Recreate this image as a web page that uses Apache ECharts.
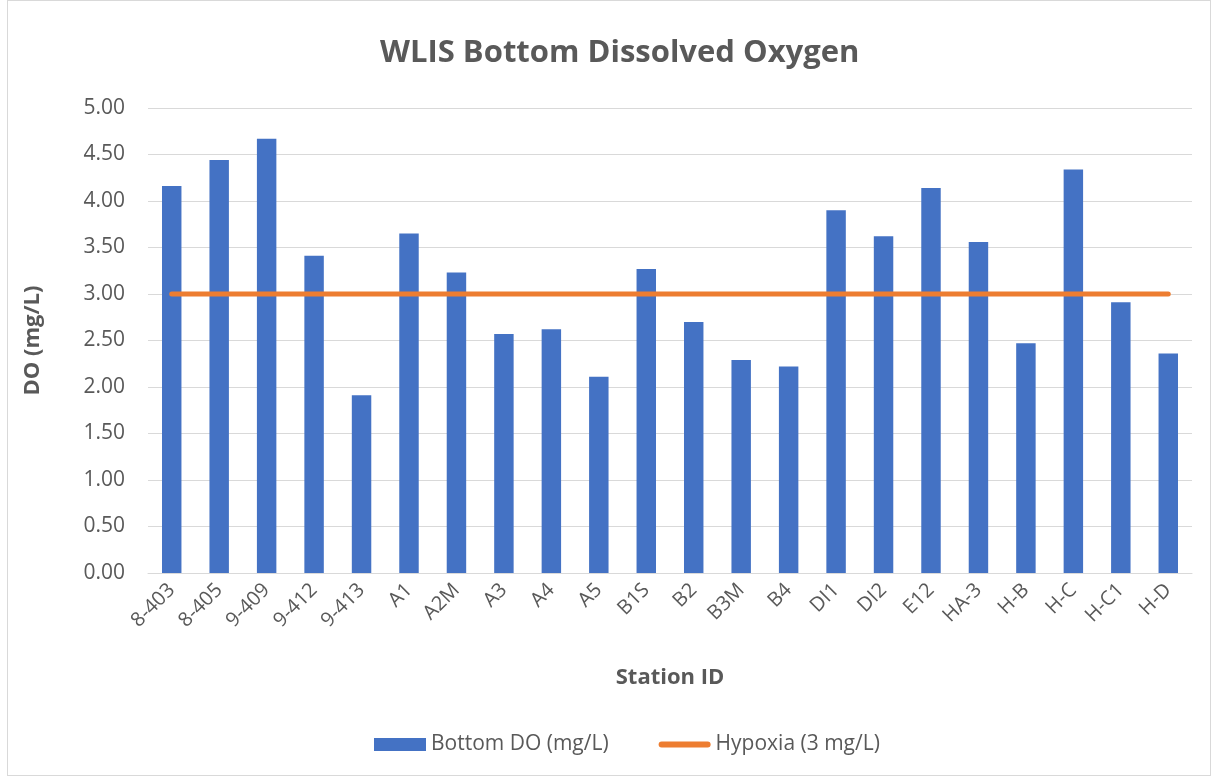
<!DOCTYPE html>
<html>
<head>
<meta charset="utf-8">
<script src="https://cdn.jsdelivr.net/npm/echarts@6/dist/echarts.min.js"></script>
<style>
html,body{margin:0;padding:0;background:#fff;}
#frame{position:absolute;left:7px;top:0;width:1204px;height:776px;border:1px solid #d9d9d9;box-sizing:border-box;}
#chart{position:absolute;left:0;top:0;width:1212px;height:778px;}
</style>
</head>
<body>
<div id="frame"></div>
<div id="chart"></div>
<script>
const stations = ["8-403","8-405","9-409","9-412","9-413","A1","A2M","A3","A4","A5","B1S","B2","B3M","B4","DI1","DI2","E12","HA-3","H-B","H-C","H-C1","H-D"];
const bottomDO = [4.16,4.44,4.67,3.41,1.91,3.65,3.23,2.57,2.62,2.11,3.27,2.70,2.29,2.22,3.90,3.62,4.14,3.56,2.47,4.34,2.91,2.36];
const hypoxiaLevel = 3;
const hypoxia = stations.map(() => hypoxiaLevel);

const font = "'Open Sans', 'Noto Sans', sans-serif";
const txt = '#595959';
const chart = echarts.init(document.getElementById('chart'), null, {renderer: 'canvas'});
chart.setOption({
  animation: false,
  backgroundColor: 'transparent',
  title: {
    text: 'WLIS Bottom Dissolved Oxygen',
    left: 375, top: 33,
    textStyle: {fontFamily: font, fontSize: 31, fontWeight: 'bold', color: txt}
  },
  grid: {left: 148, right: 20, top: 108, bottom: 205},
  legend: {
    bottom: 18, left: 369, itemGap: 50, itemWidth: 52, itemHeight: 13,
    textStyle: {fontFamily: font, fontSize: 21, color: txt},
    data: [
      {name: 'Bottom DO (mg/L)', icon: 'rect'},
      {name: 'Hypoxia (3 mg/L)', icon: 'path://M3,0 L49,0 A3,3 0 0 1 49,6 L3,6 A3,3 0 0 1 3,0 Z'}
    ]
  },
  xAxis: {
    type: 'category', data: stations,
    name: 'Station ID', nameLocation: 'middle', nameGap: 94,
    nameTextStyle: {fontFamily: font, fontSize: 22, fontWeight: 'bold', color: txt},
    axisLine: {lineStyle: {color: '#d9d9d9', width: 1}},
    axisTick: {show: false},
    axisLabel: {rotate: 45, interval: 0, fontFamily: font, fontSize: 20, color: txt, margin: 14}
  },
  yAxis: {
    type: 'value', min: 0, max: 5, interval: 0.5,
    name: 'DO (mg/L)', nameLocation: 'middle', nameGap: 104,
    nameTextStyle: {fontFamily: font, fontSize: 22, fontWeight: 'bold', color: txt},
    axisLine: {show: false}, axisTick: {show: false},
    splitLine: {lineStyle: {color: '#d9d9d9', width: 1}},
    axisLabel: {fontFamily: font, fontSize: 21, color: txt, margin: 23, formatter: v => v.toFixed(2)}
  },
  series: [
    {name: 'Bottom DO (mg/L)', type: 'bar', data: bottomDO, barWidth: '41%',
     itemStyle: {color: '#4472C4'}},
    {name: 'Hypoxia (3 mg/L)', type: 'line', data: hypoxia, symbol: 'none',
     lineStyle: {color: '#ED7D31', width: 5, cap: 'round'}, itemStyle: {color: '#ED7D31'}}
  ]
});
</script>
</body>
</html>
